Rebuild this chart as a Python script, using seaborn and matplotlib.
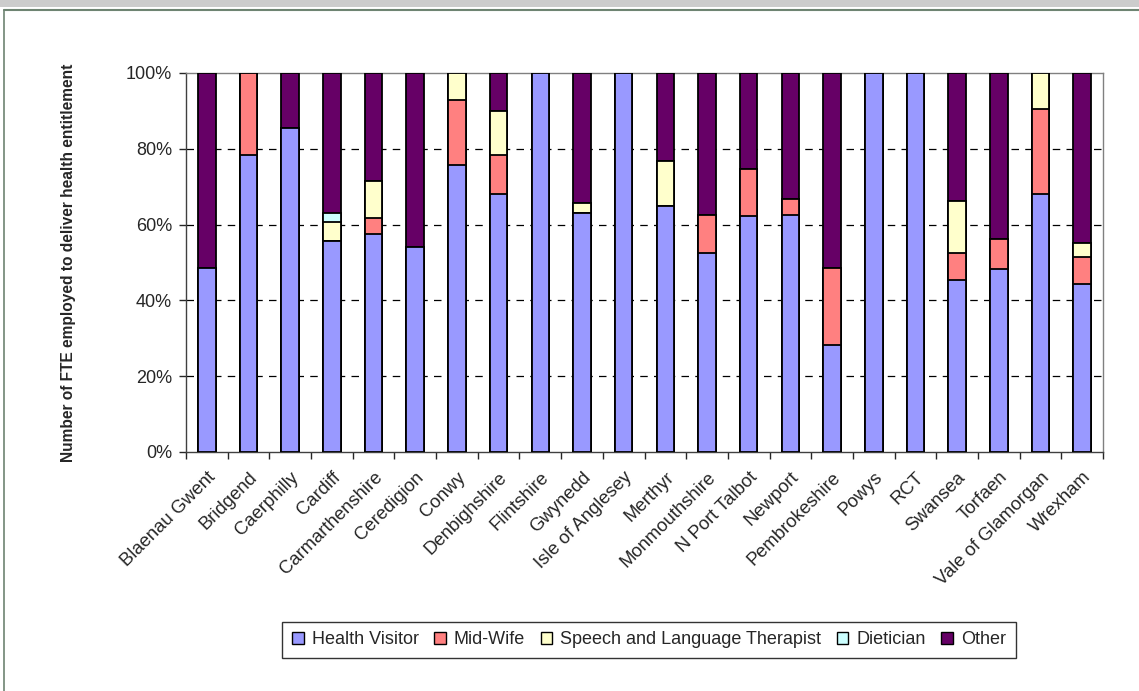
import pandas as pd
import numpy as np
import matplotlib.pyplot as plt
import seaborn as sns
from matplotlib.patches import Patch, Rectangle
from matplotlib.lines import Line2D
from matplotlib.ticker import PercentFormatter, FixedLocator

# data (share of FTE, %)
areas = ['Blaenau Gwent', 'Bridgend', 'Caerphilly', 'Cardiff', 'Carmarthenshire',
         'Ceredigion', 'Conwy', 'Denbighshire', 'Flintshire', 'Gwynedd',
         'Isle of Anglesey', 'Merthyr', 'Monmouthshire', 'N Port Talbot', 'Newport',
         'Pembrokeshire', 'Powys', 'RCT', 'Swansea', 'Torfaen', 'Vale of Glamorgan',
         'Wrexham']
health_visitor = [48.6, 78.4, 85.4, 55.6, 57.5, 54.2, 75.7, 68.2, 100, 63.0,
                  100, 64.9, 52.4, 62.2, 62.6, 28.2, 100, 100, 45.5, 48.2, 68.2, 44.4]
mid_wife = [0, 21.6, 0, 0, 4.2, 0, 17.2, 10.1, 0, 0,
            0, 0, 10.2, 12.5, 4.2, 20.4, 0, 0, 6.9, 7.9, 22.3, 7.1]
speech_therapist = [0, 0, 0, 5.1, 9.8, 0, 7.1, 11.7, 0, 2.8,
                    0, 11.8, 0, 0, 0, 0, 0, 0, 13.9, 0, 9.5, 3.7]
dietician = [0, 0, 0, 2.4, 0, 0, 0, 0, 0, 0,
             0, 0, 0, 0, 0, 0, 0, 0, 0, 0, 0, 0]
other = [51.4, 0, 14.6, 36.9, 28.5, 45.8, 0, 10.0, 0, 34.2,
         0, 23.3, 37.4, 25.3, 33.2, 51.4, 0, 0, 33.7, 43.9, 0, 44.8]

series = ['Health Visitor', 'Mid-Wife', 'Speech and Language Therapist', 'Dietician', 'Other']
colours = ['#9999FF', '#FF8080', '#FFFFCC', '#CCFFFF', '#660066']

df = pd.DataFrame({'Area': areas, 'Health Visitor': health_visitor, 'Mid-Wife': mid_wife,
                   'Speech and Language Therapist': speech_therapist,
                   'Dietician': dietician, 'Other': other})
# normalise to 100%
tot = df[series].sum(axis=1)
for s in series:
    df[s] = df[s] / tot * 100
cum = df[series].cumsum(axis=1)

sns.set_style('white')
plt.rcParams['font.family'] = ['Liberation Sans', 'DejaVu Sans']

fig = plt.figure(figsize=(11.39, 6.91), dpi=100)
ax = fig.add_axes([186/1139, 1 - 452/691, 917/1139, 379/691])

# draw stacks from the top down so each layer covers the one above
for s, c in reversed(list(zip(series, colours))):
    sns.barplot(x=df['Area'], y=cum[s], color=c, width=0.42, edgecolor='black',
                linewidth=1.3, saturation=1, ax=ax, zorder=3)

ax.set_ylim(0, 100)
ax.set_xlim(-0.5, len(areas) - 0.5)
ax.yaxis.set_major_formatter(PercentFormatter(decimals=0))
ax.set_yticks([0, 20, 40, 60, 80, 100])
for y in [20, 40, 60, 80]:
    ax.axhline(y, color='black', linestyle=(0, (6, 5)), linewidth=0.9, zorder=1)

ax.set_xlabel('')
ax.set_ylabel('Number of FTE employed to deliver health entitlement', fontsize=11.2,
              fontweight='bold')
ax.set_xticks(range(len(areas)))
ax.set_xticklabels(areas, rotation=45, ha='right', rotation_mode='anchor', fontsize=13.3)
ax.tick_params(axis='x', length=0, pad=12)
ax.tick_params(axis='y', labelsize=13, length=5, width=1, direction='out', left=True, pad=5)
ax.xaxis.set_minor_locator(FixedLocator(np.arange(-0.5, len(areas), 1)))
ax.tick_params(axis='x', which='minor', length=5, width=1, direction='out', bottom=True)

for side in ['top', 'right']:
    ax.spines[side].set_color('#808080')
    ax.spines[side].set_linewidth(1)
for side in ['left', 'bottom']:
    ax.spines[side].set_color('#404040')
    ax.spines[side].set_linewidth(1)
ax.yaxis.set_label_coords(-110/917, 0.5)

handles = [Patch(facecolor=c, edgecolor='black', linewidth=1, label=s) for s, c in zip(series, colours)]
leg = fig.legend(handles=handles, loc='center', bbox_to_anchor=(649/1139, 1 - 640/691), ncol=5,
                 fontsize=13, frameon=True, fancybox=False, edgecolor='black',
                 handlelength=0.65, handleheight=0.65, handletextpad=0.45, columnspacing=0.85,
                 borderpad=0.55, borderaxespad=0)
leg.get_frame().set_linewidth(1)

# outer chart frame
fig.add_artist(Rectangle((0, 1 - 7/691), 1, 7/691, transform=fig.transFigure,
                         facecolor='#CCCCCC', edgecolor='none'))
fig.add_artist(Line2D([4/1139, 1], [1 - 10/691, 1 - 10/691], transform=fig.transFigure,
                      color='#6E8472', linewidth=1.5))
fig.add_artist(Line2D([4/1139, 4/1139], [0, 1 - 10/691], transform=fig.transFigure,
                      color='#6E8472', linewidth=1.2))

fig.savefig('out.png', dpi=100)
